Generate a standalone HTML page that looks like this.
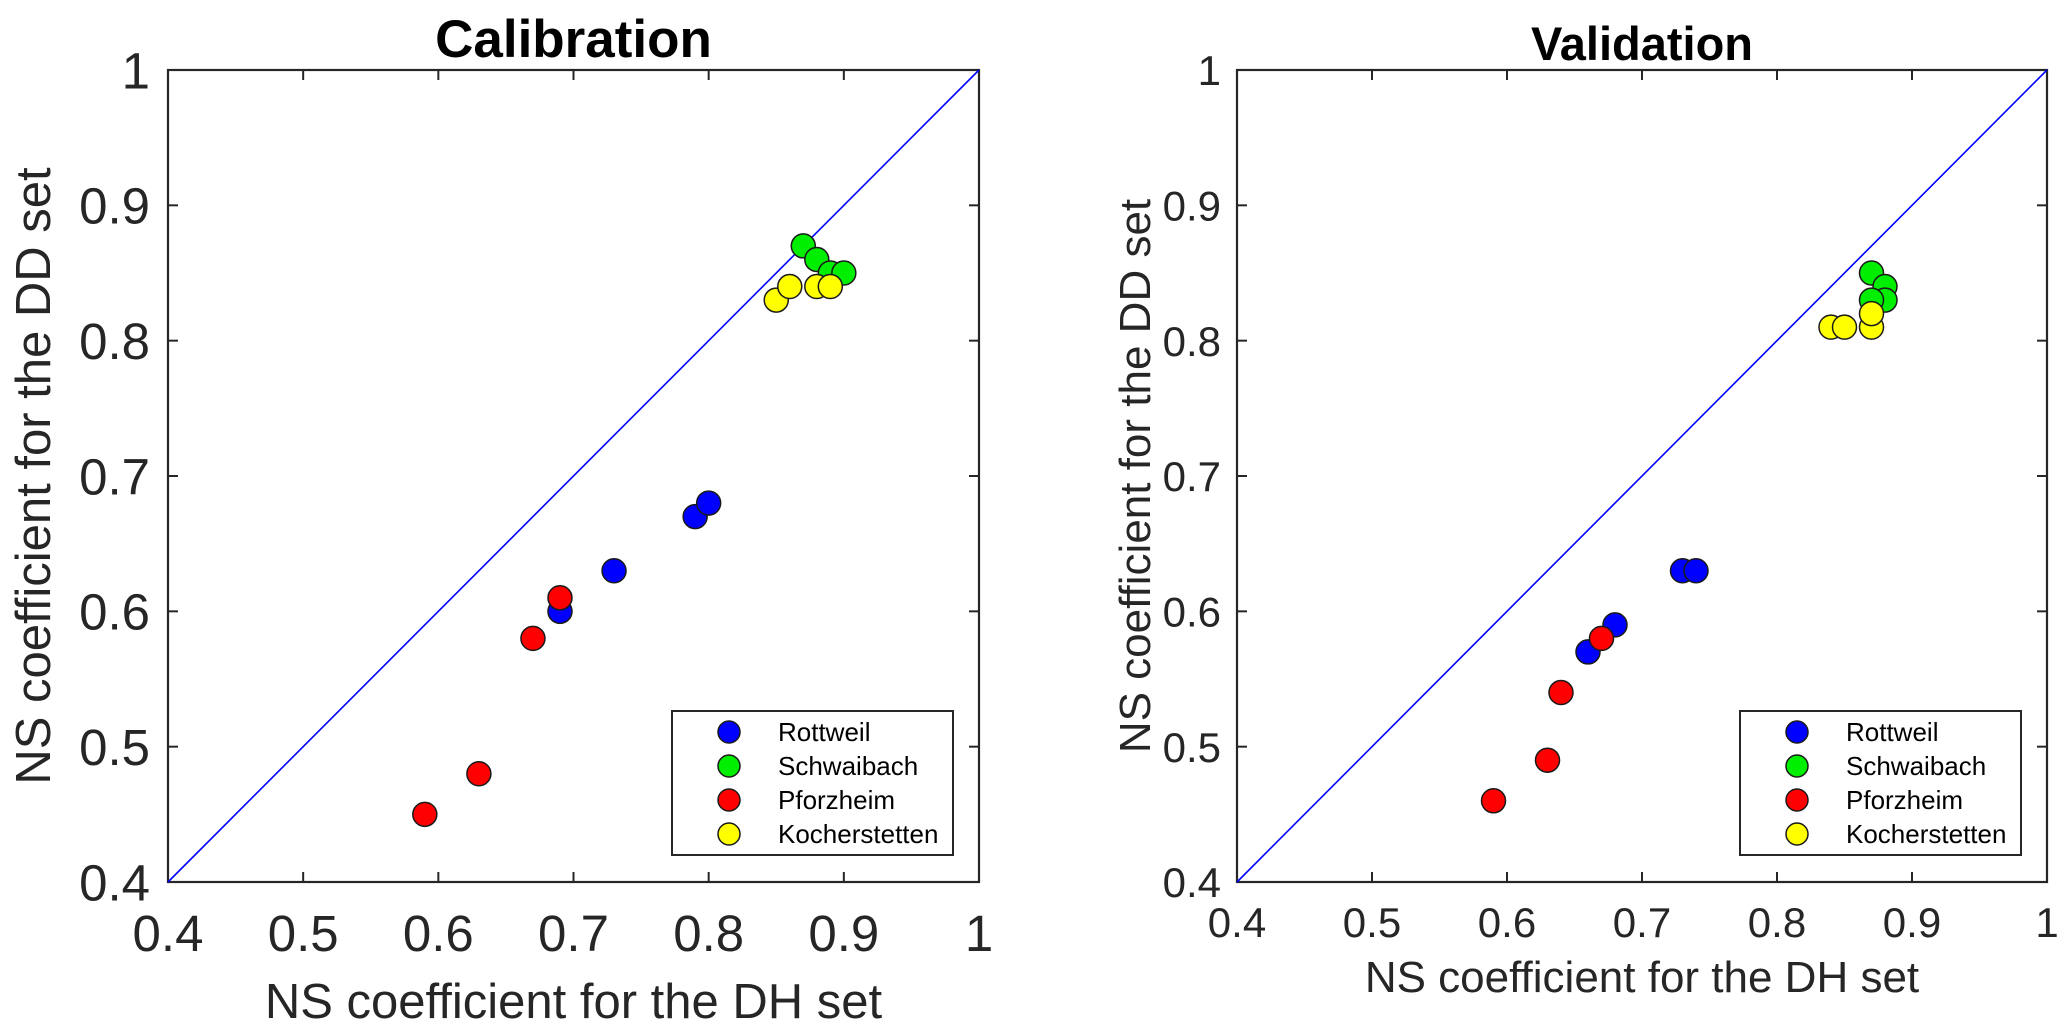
<!DOCTYPE html>
<html><head><meta charset="utf-8"><style>
html,body{margin:0;padding:0;background:#fff;}
svg{display:block;font-family:"Liberation Sans",Arial,sans-serif;}
</style></head><body>
<svg id="chart" width="2067" height="1033" viewBox="0 0 2067 1033" xmlns="http://www.w3.org/2000/svg"></svg>
<script>
const ticks = [0.4,0.5,0.6,0.7,0.8,0.9,1.0];
const tickLabels = ["0.4","0.5","0.6","0.7","0.8","0.9","1"];
const seriesNames = ["Rottweil","Schwaibach","Pforzheim","Kocherstetten"];
const seriesColors = ["#0000ff","#00ee00","#ff0000","#ffff00"];
// Calibration
const calRottX = [0.69,0.73,0.79,0.80];
const calRottY = [0.60,0.63,0.67,0.68];
const calSchwX = [0.87,0.88,0.89,0.90];
const calSchwY = [0.87,0.86,0.85,0.85];
const calPforX = [0.59,0.63,0.67,0.69];
const calPforY = [0.45,0.48,0.58,0.61];
const calKochX = [0.85,0.86,0.88,0.89];
const calKochY = [0.83,0.84,0.84,0.84];
// Validation
const valRottX = [0.66,0.68,0.73,0.74];
const valRottY = [0.57,0.59,0.63,0.63];
const valSchwX = [0.87,0.88,0.88,0.87];
const valSchwY = [0.85,0.84,0.83,0.83];
const valPforX = [0.59,0.63,0.64,0.67];
const valPforY = [0.46,0.49,0.54,0.58];
const valKochX = [0.84,0.85,0.87,0.87];
const valKochY = [0.81,0.81,0.81,0.82];

const NS='http://www.w3.org/2000/svg';
const svg=document.getElementById('chart');
function mk(tag,attrs,parent){const e=document.createElementNS(NS,tag);for(const k in attrs)e.setAttribute(k,attrs[k]);(parent||svg).appendChild(e);return e;}

function panel(cfg){
  const g=mk('g',{});
  
  
  const sx=v=>cfg.x0+(v-0.4)/0.6*(cfg.x1-cfg.x0);
  const sy=v=>cfg.y1-(v-0.4)/0.6*(cfg.y1-cfg.y0);
  const box=mk('rect',{x:cfg.x0,y:cfg.y0,width:cfg.x1-cfg.x0,height:cfg.y1-cfg.y0,fill:'#fff',stroke:'#262626','stroke-width':2.2},g);
  
  
  ticks.forEach((t,i)=>{
    const X=sx(t),Y=sy(t);
    mk('line',{x1:X,y1:cfg.y1,x2:X,y2:cfg.y1-10,stroke:'#262626','stroke-width':2},g);
    mk('line',{x1:X,y1:cfg.y0,x2:X,y2:cfg.y0+10,stroke:'#262626','stroke-width':2},g);
    mk('line',{x1:cfg.x0,y1:Y,x2:cfg.x0+10,y2:Y,stroke:'#262626','stroke-width':2},g);
    mk('line',{x1:cfg.x1,y1:Y,x2:cfg.x1-10,y2:Y,stroke:'#262626','stroke-width':2},g);
    const xt=mk('text',{x:X,y:cfg.xtBase,'text-anchor':'middle','font-size':cfg.tfs,fill:'#262626'},g);
    xt.textContent=tickLabels[i];
    
    
    const yt=mk('text',{x:cfg.x0-cfg.ytGap,y:Y+cfg.tfs*0.36,'text-anchor':'end','font-size':cfg.tfs,fill:'#262626'},g);
    yt.textContent=tickLabels[i];
    
    
  });
  const diag=mk('line',{x1:sx(0.4),y1:sy(0.4),x2:sx(1.0),y2:sy(1.0),stroke:'#0000ff','stroke-width':1.6},g);
  
  
  cfg.series.forEach((s,si)=>{
    s[0].forEach((xv,j)=>{
      const c=mk('circle',{cx:sx(xv),cy:sy(s[1][j]),r:12,fill:seriesColors[si],stroke:'#1a1a1a','stroke-width':1.5},g);
      
      
    });
  });
  const t=mk('text',{x:(cfg.x0+cfg.x1)/2,y:cfg.titleBase,'text-anchor':'middle','font-size':cfg.titleFs,'font-weight':'bold',fill:'#000'},g);
  t.textContent=cfg.title;
  
  
  const xl=mk('text',{x:(cfg.x0+cfg.x1)/2,y:cfg.xlBase,'text-anchor':'middle','font-size':cfg.lfs,fill:'#262626'},g);
  xl.textContent='NS coefficient for the DH set';
  
  
  const yc=(cfg.y0+cfg.y1)/2;
  const yl=mk('text',{x:cfg.ylX,y:yc,'text-anchor':'middle','font-size':cfg.lfs,fill:'#262626',transform:`rotate(-90 ${cfg.ylX} ${yc})`},g);
  yl.textContent='NS coefficient for the DD set';
  
  
  const lg=mk('g',{},g);
  
  
  mk('rect',{x:cfg.lgX0,y:711,width:cfg.lgX1-cfg.lgX0,height:144,fill:'#fff',stroke:'#262626','stroke-width':2},lg);
  seriesNames.forEach((n,i)=>{
    const yy=732+i*34;
    const e=mk('g',{},lg);
    
    
    mk('circle',{cx:cfg.lgX0+57,cy:yy,r:11,fill:seriesColors[i],stroke:'#1a1a1a','stroke-width':1.5},e);
    const tx=mk('text',{x:cfg.lgX0+106,y:yy+9,'font-size':26,fill:'#000'},e);
    tx.textContent=n;
  });
}

panel({name:'calibration-panel',title:'Calibration',x0:168,x1:979,y0:70,y1:882,tfs:51,lfs:49,titleFs:53,titleBase:57,
  xtBase:951,xlBase:1018,ytGap:18,ylX:50,lgX0:672,lgX1:953,
  series:[[calRottX,calRottY],[calSchwX,calSchwY],[calPforX,calPforY],[calKochX,calKochY]]});
panel({name:'validation-panel',title:'Validation',x0:1237,x1:2047,y0:70,y1:882,tfs:42,lfs:44,titleFs:47,titleBase:60,
  xtBase:937,xlBase:992,ytGap:16,ylX:1150,lgX0:1740,lgX1:2021,
  series:[[valRottX,valRottY],[valSchwX,valSchwY],[valPforX,valPforY],[valKochX,valKochY]]});
</script>
</body></html>
